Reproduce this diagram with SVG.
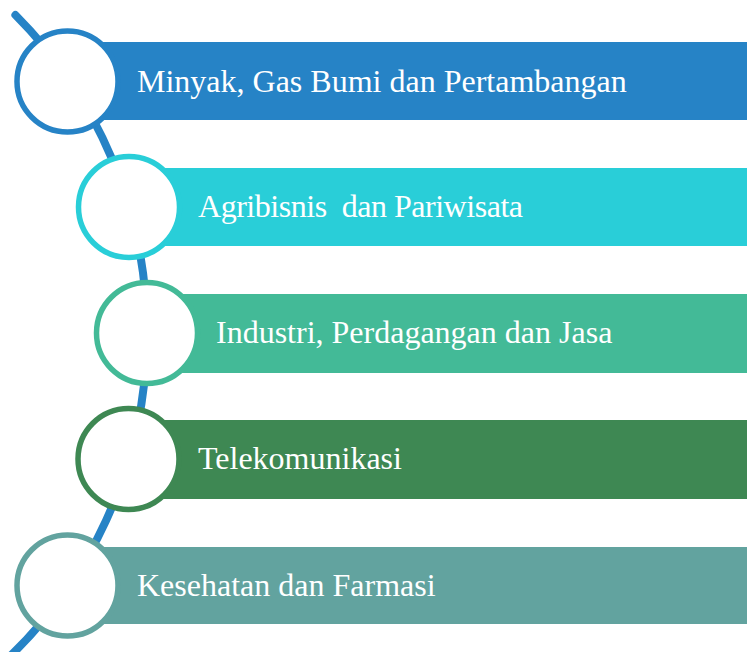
<svg xmlns="http://www.w3.org/2000/svg" width="747" height="652" viewBox="0 0 747 652">
<style>
.lbl{font-family:"Liberation Serif","Times New Roman",serif;font-size:32px;fill:#fff;white-space:pre}
.ring{fill:#fff;stroke-width:5.5}
</style>
<rect width="747" height="652" fill="#fff"/>
<g id="connectors">
<path d="M 15.4 15 A 450 450 0 0 1 6.1 660" fill="none" stroke="#2683C6" stroke-width="8" stroke-linecap="round"/>
</g>
<g id="node1">
<rect x="67" y="42" width="680" height="78" fill="#2683C6"/>
<circle class="ring" cx="67.5" cy="81.5" r="50.5" stroke="#2683C6"/>
<text class="lbl" x="137" y="92">Minyak, Gas Bumi dan Pertambangan</text>
</g>
<g id="node2">
<rect x="129" y="168" width="618" height="78" fill="#29CED8"/>
<circle class="ring" cx="129" cy="207" r="50.5" stroke="#29CED8"/>
<text class="lbl" x="198" y="217" textLength="325" lengthAdjust="spacing">Agribisnis  dan Pariwisata</text>
</g>
<g id="node3">
<rect x="147" y="294" width="600" height="79" fill="#43BA97"/>
<circle class="ring" cx="147" cy="333" r="50.5" stroke="#43BA97"/>
<text class="lbl" x="216" y="343">Industri, Perdagangan dan Jasa</text>
</g>
<g id="node4">
<rect x="129" y="420" width="618" height="79" fill="#3E8853"/>
<circle class="ring" cx="128.5" cy="459" r="50.5" stroke="#3E8853"/>
<text class="lbl" x="198" y="469">Telekomunikasi</text>
</g>
<g id="node5">
<rect x="67" y="547" width="680" height="77" fill="#62A39F"/>
<circle class="ring" cx="67.5" cy="585.5" r="50.5" stroke="#62A39F"/>
<text class="lbl" x="137" y="596">Kesehatan dan Farmasi</text>
</g>
</svg>
